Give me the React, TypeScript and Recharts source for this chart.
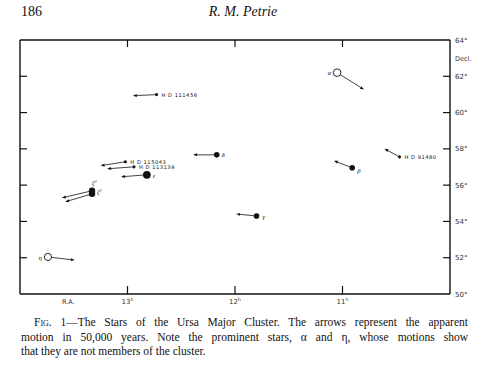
import React from 'react';
import { ScatterChart, Scatter, XAxis, YAxis, ReferenceLine } from 'recharts';

// star positions (R.A. in hours, Decl. in degrees)
const starNames = ['HD 111456', 'α', 'δ', 'HD 115043', 'HD 113139', 'ε', 'ζ2', 'ζ1', 'η', 'γ', 'β', 'HD 91480'];
const starRA = [12.73, 11.05, 12.17, 13.02, 12.94, 12.82, 13.33, 13.33, 13.74, 11.8, 10.91, 10.47];
const starDec = [60.99, 62.2, 57.67, 57.29, 57.01, 56.57, 55.69, 55.52, 52.04, 54.3, 56.96, 57.56];

// where each 50,000-year motion arrow ends
const motionEndRA = [12.95, 10.8, 12.39, 13.25, 13.19, 13.06, 13.61, 13.58, 13.49, 11.99, 11.08, 10.61];
const motionEndDec = [60.93, 61.27, 57.67, 57.07, 56.9, 56.46, 55.3, 55.08, 51.87, 54.41, 57.34, 58.01];

const raTicks = [13, 12, 11];
const raTitleAt = 13.55;
const decTicks = [50, 52, 54, 56, 58, 60, 62, 64];
const innerDecTicks = [52, 54, 56, 58, 60, 62];

const stars = starNames.map((name, i) => ({ name, ra: starRA[i], dec: starDec[i] }));

const dotRadius: Record<string, number> = {
  'HD 111456': 1.6, 'HD 115043': 1.6, 'HD 113139': 1.6, 'HD 91480': 1.6,
  'α': 3.8, 'η': 3.6, 'ε': 3.9, 'ζ2': 3.2, 'ζ1': 3.2, 'δ': 2.8, 'γ': 2.8, 'β': 2.8,
};
const openStars = ['α', 'η'];
const labelPlace: Record<string, [number, number, string]> = {
  'HD 111456': [5, 2, 'start'], 'HD 115043': [5, 2, 'start'], 'HD 113139': [5, 2, 'start'], 'HD 91480': [5, 2, 'start'],
  'α': [-6, 2, 'end'], 'η': [-6, 3, 'end'], 'ε': [6, 3, 'start'], 'δ': [5, 2, 'start'],
  'γ': [6, 3, 'start'], 'β': [5, 5, 'start'], 'ζ2': [0, -6, 'start'], 'ζ1': [5, 0, 'start'],
};

const ink = '#111';

function StarDot(props: any) {
  const { cx, cy, payload } = props;
  const name: string = payload.name;
  const r = dotRadius[name];
  const open = openStars.includes(name);
  const [dx, dy, anchor] = labelPlace[name];
  const isHD = name.startsWith('HD');
  let label: React.ReactNode = name;
  if (isHD) label = 'H D ' + name.slice(3);
  if (name.startsWith('ζ')) label = <>ζ<tspan dy={-2} fontSize={4}>{name.slice(1)}</tspan></>;
  return (
    <g>
      <circle cx={cx} cy={cy} r={r} fill={open ? '#fff' : ink} stroke={ink} strokeWidth={open ? 0.9 : 0} />
      <text
        x={cx + dx}
        y={cy + dy}
        textAnchor={anchor as any}
        fontSize={isHD ? 5.2 : 6.5}
        letterSpacing={isHD ? 0.5 : 0}
        fontFamily={isHD ? 'DejaVu Sans, sans-serif' : 'Liberation Serif, serif'}
        fontStyle={isHD ? 'normal' : 'italic'}
        fill={ink}
      >
        {label}
      </text>
    </g>
  );
}

function MotionArrow(props: any) {
  const { x1, y1, x2, y2, gap } = props;
  const len = Math.hypot(x2 - x1, y2 - y1);
  const ux = (x2 - x1) / len;
  const uy = (y2 - y1) / len;
  const sx = x1 + ux * gap;
  const sy = y1 + uy * gap;
  const hl = 4;
  const hw = 1.5;
  const bx = x2 - ux * hl;
  const by = y2 - uy * hl;
  return (
    <g>
      <line x1={sx} y1={sy} x2={bx} y2={by} stroke={ink} strokeWidth={0.8} />
      <polygon points={`${x2},${y2} ${bx - uy * hw},${by + ux * hw} ${bx + uy * hw},${by - ux * hw}`} fill={ink} />
    </g>
  );
}

function BottomTick(props: any) {
  const { x, y, payload } = props;
  if (payload.value === raTitleAt) {
    return <text x={x} y={y + 10} textAnchor="middle" fontSize={6.5} fill="#333">R.A.</text>;
  }
  return (
    <g>
      <line x1={x} y1={y} x2={x} y2={y - 8} stroke={ink} strokeWidth={1.2} />
      <text x={x} y={y + 10} textAnchor="middle" fontSize={7} fill="#333">
        {payload.value}<tspan dy={-3} fontSize={4.5}>h</tspan>
      </text>
    </g>
  );
}

function TopTick(props: any) {
  const { x, y } = props;
  return <line x1={x} y1={y} x2={x} y2={y + 7} stroke={ink} strokeWidth={1.2} />;
}

function LeftTick(props: any) {
  const { x, y } = props;
  return <line x1={x} y1={y} x2={x + 7} y2={y} stroke={ink} strokeWidth={1.2} />;
}

function RightTick(props: any) {
  const { x, y, payload } = props;
  return (
    <g>
      {payload.value !== 64 && payload.value !== 50 && (
        <line x1={x - 7} y1={y} x2={x} y2={y} stroke={ink} strokeWidth={1.2} />
      )}
      <text x={x + 5} y={y + 2.5} fontSize={7} fill="#333">{payload.value}°</text>
      {payload.value === 64 && (
        <text x={x + 5} y={y + 21} fontSize={6.5} fill="#333">Decl.</text>
      )}
    </g>
  );
}

export default function App() {
  return (
    <div style={{ position: 'absolute', left: 0, top: 0, width: 479, height: 365, background: '#fff', overflow: 'hidden' }}>
      <div style={{ position: 'absolute', left: 21, top: 4, fontFamily: 'Liberation Serif, serif', fontSize: 14, color: ink }}>186</div>
      <div style={{ position: 'absolute', left: 0, width: 486, top: 4, textAlign: 'center', fontFamily: 'Liberation Serif, serif', fontStyle: 'italic', fontSize: 14, color: ink }}>
        R. M. Petrie
      </div>
      <div style={{ position: 'absolute', left: 0, top: 0 }}>
        <ScatterChart
          width={479}
          height={320}
          margin={{ top: 39, right: 0, left: 19, bottom: 10 }}
          style={{ fontFamily: 'DejaVu Sans, sans-serif' }}
        >
          <XAxis
            xAxisId="bottom"
            type="number"
            dataKey="ra"
            domain={[10, 14]}
            reversed
            ticks={[raTitleAt, ...raTicks]}
            interval={0}
            height={16}
            tickSize={0}
            tickMargin={0}
            tickLine={false}
            axisLine={{ stroke: ink, strokeWidth: 1.4 }}
            tick={BottomTick}
          />
          <XAxis
            xAxisId="top"
            orientation="top"
            type="number"
            dataKey="ra"
            domain={[10, 14]}
            reversed
            ticks={raTicks}
            interval={0}
            height={1}
            tickSize={0}
            tickMargin={0}
            tickLine={false}
            axisLine={{ stroke: ink, strokeWidth: 1.4 }}
            tick={TopTick}
          />
          <YAxis
            yAxisId="left"
            type="number"
            dataKey="dec"
            domain={[50, 64]}
            ticks={innerDecTicks}
            interval={0}
            width={1}
            tickSize={0}
            tickMargin={0}
            tickLine={false}
            axisLine={{ stroke: ink, strokeWidth: 1.4 }}
            tick={LeftTick}
          />
          <YAxis
            yAxisId="right"
            orientation="right"
            type="number"
            dataKey="dec"
            domain={[50, 64]}
            ticks={decTicks}
            interval={0}
            width={29}
            tickSize={0}
            tickMargin={0}
            tickLine={false}
            axisLine={{ stroke: ink, strokeWidth: 1.4 }}
            tick={RightTick}
          />
          {starNames.map((name, i) => (
            <ReferenceLine
              key={name}
              xAxisId="bottom"
              yAxisId="left"
              segment={[
                { x: starRA[i], y: starDec[i] },
                { x: motionEndRA[i], y: motionEndDec[i] },
              ]}
              shape={(p: any) => <MotionArrow {...p} gap={dotRadius[name]} />}
            />
          ))}
          {/* invisible series so the top and right frame axes get their scales */}
          <Scatter
            xAxisId="top"
            yAxisId="right"
            data={stars}
            isAnimationActive={false}
            shape={() => <g />}
          />
          <Scatter
            xAxisId="bottom"
            yAxisId="left"
            data={stars}
            isAnimationActive={false}
            shape={StarDot}
          />
        </ScatterChart>
      </div>
      <div style={{ position: 'absolute', left: 21, top: 315, width: 447, fontFamily: 'Liberation Serif, serif', fontSize: 11.5, lineHeight: '14.5px', color: ink }}>
        <div style={{ textAlign: 'justify', textAlignLast: 'justify', paddingLeft: 13 }}>
          <span style={{ fontVariant: 'small-caps' }}>Fig.</span> 1—The Stars of the Ursa Major Cluster. The arrows represent the apparent
        </div>
        <div style={{ textAlign: 'justify', textAlignLast: 'justify' }}>
          motion in 50,000 years. Note the prominent stars, α and η, whose motions show
        </div>
        <div>that they are not members of the cluster.</div>
      </div>
    </div>
  );
}
